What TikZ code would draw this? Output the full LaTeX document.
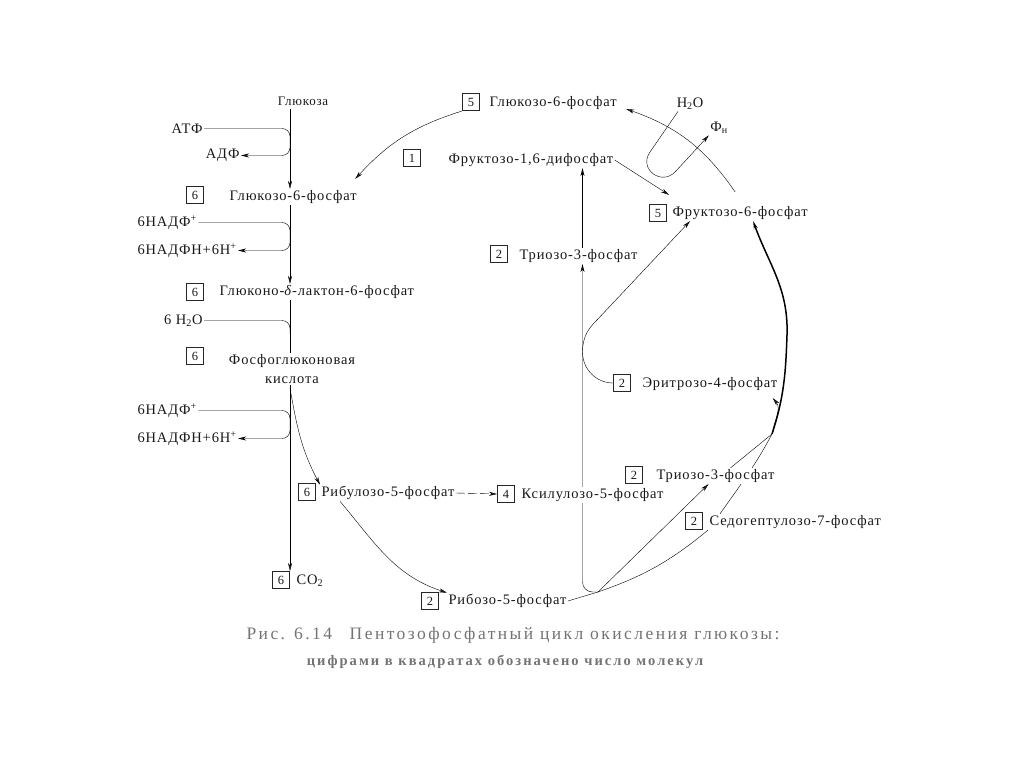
\documentclass[tikz,border=0pt]{standalone}
\usepackage{fontspec}
\setmainfont{Liberation Serif}[LetterSpace=6]
\newfontfamily\capfont{Liberation Serif}[LetterSpace=14]
\usetikzlibrary{arrows.meta,backgrounds}

\tikzset{
  lbl/.style={fill=white, inner sep=1pt, anchor=west},
  num/.style={draw, fill=white, minimum size=17pt, inner sep=0pt, font=\fontsize{12.5}{12.5}\selectfont},
  arr/.style={-{Stealth[length=8pt,width=4pt]}},
  capt/.style={text=black!55, font=\capfont\fontsize{17.5}{20}\selectfont}
}

\begin{document}
\begin{tikzpicture}[x=1pt, y=-1pt, line width=1.05pt, draw=black!85, text=black!90,
  font=\fontsize{14.5}{16}\selectfont]
\useasboundingbox (0,0) rectangle (1024,767);

\node[font=\fontsize{13}{14}\selectfont] (glc) at (303,101) {Глюкоза};
\node[lbl, anchor=east] (atp) at (204,128.5) {АТФ};
\node[lbl, anchor=east] (adp) at (241,155.5) {АДФ};
\node[num] (b1) at (195,195) {6};
\node[lbl] (g6p) at (228,197) {Глюкозо-6-фосфат};
\node[lbl, anchor=west] (nadp1) at (136,222.5) {6НАДФ\textsuperscript{+}};
\node[lbl, anchor=west] (nadph1) at (136,250.5) {6НАДФН+6Н\textsuperscript{+}};
\node[num] (b2) at (195,292) {6};
\node[lbl] (lac) at (218,292) {Глюконо-\textit{δ}-лактон-6-фосфат};
\node[lbl, anchor=east] (h2o1) at (204,320.5) {6 H\textsubscript{2}O};
\node[num] (b3) at (195,356) {6};
\node[lbl, anchor=center, align=center, font=\fontsize{14.5}{19}\selectfont] (pgk) at (292,369) {Фосфоглюконовая\\кислота};
\node[lbl] (nadp2) at (136,410.5) {6НАДФ\textsuperscript{+}};
\node[lbl] (nadph2) at (136,438.5) {6НАДФН+6Н\textsuperscript{+}};
\node[num] (b4) at (307,492) {6};
\node[lbl] (rbl) at (320,493) {Рибулозо-5-фосфат};
\node[num] (b5) at (506,494) {4};
\node[lbl] (xyl) at (520,495) {Ксилулозо-5-фосфат};
\node[num] (b6) at (281,580) {6};
\node[lbl] (co2) at (295,581) {CO\textsubscript{2}};
\node[num] (b7) at (430,601) {2};
\node[lbl] (rbz) at (447,601) {Рибозо-5-фосфат};

\node[num] (b8) at (471,102) {5};
\node[lbl] (g6p2) at (488,103) {Глюкозо-6-фосфат};
\node[num] (b9) at (412,158) {1};
\node[lbl] (fbp) at (447,160) {Фруктозо-1,6-дифосфат};
\node[lbl, anchor=center] (h2o2) at (690,104) {H\textsubscript{2}O};
\node[lbl, anchor=center] (fn) at (719,128) {Ф\textsubscript{н}};
\node[num] (b10) at (658,213) {5};
\node[lbl] (f6p) at (671,213) {Фруктозо-6-фосфат};
\node[num] (b11) at (499,254) {2};
\node[lbl] (tri1) at (518,256) {Триозо-3-фосфат};
\node[num] (b12) at (622,383) {2};
\node[lbl] (ery) at (641,384) {Эритрозо-4-фосфат};
\node[num] (b13) at (634,475) {2};
\node[lbl] (tri2) at (655,476) {Триозо-3-фосфат};
\node[num] (b14) at (694,521) {2};
\node[lbl] (sed) at (708,522) {Седогептулозо-7-фосфат};

\node[capt] (cap1) at (513,635) {Рис. 6.14\quad Пентозофосфатный цикл окисления глюкозы:};
\node[capt, font=\capfont\bfseries\fontsize{14.5}{16}\selectfont] (cap2) at (505,662) {цифрами в квадратах обозначено число молекул};

\coordinate (ax) at (290,0);
\coordinate (m1) at (290,142);
\coordinate (m2) at (290,237);
\coordinate (m3) at (290,334);
\coordinate (m4) at (290,424);
\coordinate (vx) at (582.5,0);
\coordinate (J) at (598,592);
\coordinate (E) at (582.5,352);
\coordinate (K) at (772,434);
\coordinate (R) at (787,335);

\begin{scope}[on background layer]
\draw[arr] (glc.south -| ax) -- (g6p.north -| ax);
\draw[rounded corners=8pt] (atp.east) -- (atp -| m1) -- (m1);
\draw[arr, rounded corners=8pt] (m1) -- (adp -| m1) -- (adp.east);
\draw[arr] (g6p.south -| ax) -- (lac.north -| ax);
\draw[rounded corners=8pt] (nadp1.east) -- (nadp1 -| m2) -- (m2);
\draw[arr, rounded corners=8pt] (m2) -- (nadph1 -| m2) -- (nadph1.east);
\draw (lac.south -| ax) -- (pgk.north -| ax);
\draw[rounded corners=8pt] (h2o1.east) -- (h2o1 -| m3) -- (m3);
\draw[arr] (pgk.south -| ax) -- (b6.north -| ax);
\draw[rounded corners=8pt] (nadp2.east) -- (nadp2 -| m4) -- (m4);
\draw[arr, rounded corners=8pt] (m4) -- (nadph2 -| m4) -- (nadph2.east);
\draw[arr] ([yshift=-3pt]pgk.south -| ax) to[out=-80,in=118] (rbl.north west);
\draw[arr, dash pattern=on 9pt off 3pt] (rbl.east) -- (b5.west);
\draw[arr] ([xshift=20pt]rbl.south west) to[out=-50,in=162] (rbz.north west);

\draw (rbz.east) -- (J);
\draw[arr, rounded corners=10pt] (J) -- (J -| vx) -- (tri1.south -| vx);
\draw[arr] (tri1.north -| vx) -- (fbp.south -| vx);
\draw (b12.west) to[out=180,in=-90] (E);
\draw[arr] (E) .. controls (582.5,335) and (590,327) .. (597,320) -- ([xshift=19pt]f6p.south west);
\draw[arr] (J) -- ([xshift=-7pt]tri2.south);
\draw (J) to[bend right=10] (sed.south west);
\draw ([xshift=12pt]sed.north west) to[out=55,in=-118] (K);
\draw ([xshift=15pt]tri2.north) -- (K);
\draw[arr, line width=1.5pt] (K) to[out=72,in=-92] (R) to[out=88,in=-70] ([xshift=13pt]f6p.south);
\draw[arr] (K) to[out=80,in=-50] ([shift={(-6pt,-6pt)}]ery.south east);

\draw[arr] (b8.south west) to[bend right=15] ([shift={(-3pt,10pt)}]g6p.north east);
\draw[arr] ([shift={(-5pt,13pt)}]f6p.north) to[bend right=18] ([shift={(8pt,-6pt)}]g6p2.east);
\draw[arr] (fbp.east) -- ([shift={(-2pt,10pt)}]f6p.north west);
\draw[arr] ([xshift=-12pt]h2o2.south) -- (650,152) .. controls (638,169) and (662,187) .. (676,171) -- (fn.south west);
\end{scope}
\end{tikzpicture}
\end{document}
